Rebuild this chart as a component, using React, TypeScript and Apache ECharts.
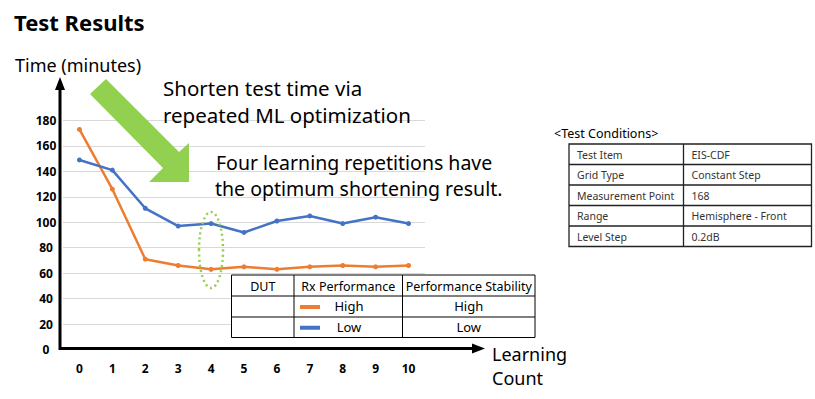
import React, { useEffect, useRef } from "react";
import * as echarts from "echarts";

const categories = ["0", "1", "2", "3", "4", "5", "6", "7", "8", "9", "10"];
const highRx = [173, 126, 71, 66, 63, 65, 63, 65, 66, 65, 66];
const lowRx = [149, 141, 111, 97, 99, 92, 101, 105, 99, 104, 99];
const yMin = 0;
const yMax = 180;
const yStep = 20;

const titleText = "Test Results";
const yAxisName = "Time (minutes)";
const xAxisName = ["Learning", "Count"];
const note1 = ["Shorten test time via", "repeated ML optimization"];
const note2 = ["Four learning repetitions have", "the optimum shortening result."];

const legendHeader = ["DUT", "Rx Performance", "Performance Stability"];
const legendRx = ["High", "Low"];
const legendStability = ["High", "Low"];

const conditionsTitle = "<Test Conditions>";
const conditionKeys = ["Test Item", "Grid Type", "Measurement Point", "Range", "Level Step"];
const conditionValues = ["EIS-CDF", "Constant Step", "168", "Hemisphere - Front", "0.2dB"];

const ORANGE = "#ED7D31";
const BLUE = "#4472C4";
const GREEN = "#92D050";
const FONT = "'Noto Sans', 'Open Sans', sans-serif";

export default function App() {
  const ref = useRef<HTMLDivElement>(null);

  useEffect(() => {
    if (!ref.current) return;
    const chart = echarts.init(ref.current, undefined, { renderer: "svg" });

    const graphics: any[] = [];
    const txt = (text: string, x: number, y: number, size: number, opts: any = {}) => {
      graphics.push({
        type: "text",
        z: opts.z ?? 20,
        style: {
          text,
          x,
          y,
          font: `${opts.weight ?? "normal"} ${size}px ${FONT}`,
          fill: opts.fill ?? "#000",
          align: opts.align ?? "left",
          verticalAlign: "middle",
        },
      });
    };
    const line = (x1: number, y1: number, x2: number, y2: number, w = 1, color = "#000", z = 20) => {
      graphics.push({
        type: "line",
        z,
        shape: { x1, y1, x2, y2 },
        style: { stroke: color, lineWidth: w },
      });
    };

    // Title and axis names
    txt(titleText, 14, 22, 22, { weight: "bold" });
    txt(yAxisName, 15, 65, 18);
    txt(xAxisName[0], 492, 354, 18);
    txt(xAxisName[1], 492, 378, 18);

    // Axis arrows
    line(60, 350, 60, 86, 3);
    graphics.push({ type: "polygon", z: 20, shape: { points: [[60, 77], [55, 90], [65, 90]] }, style: { fill: "#000" } });
    line(59, 348.5, 474, 348.5, 3);
    graphics.push({ type: "polygon", z: 20, shape: { points: [[485, 348.5], [472, 343.5], [472, 353.5]] }, style: { fill: "#000" } });

    // Green arrow
    graphics.push({
      type: "polygon",
      z: 5,
      shape: {
        points: [
          [106, 79],
          [179, 152],
          [189, 143],
          [189, 182],
          [149, 182],
          [163, 168],
          [90, 94],
        ],
      },
      style: { fill: GREEN },
    });

    // Notes
    txt(note1[0], 163, 88, 20.5);
    txt(note1[1], 163, 115, 20.5);
    txt(note2[0], 216, 162, 19.5);
    txt(note2[1], 215, 188, 19.5);

    // Dotted ellipse
    graphics.push({
      type: "ellipse",
      z: 15,
      shape: { cx: 211, cy: 250, rx: 12, ry: 38 },
      style: { fill: "none", stroke: GREEN, lineWidth: 2.5, lineDash: [2, 3.2] },
    });

    // Legend table
    const lx = [231.5, 294, 402.5, 535];
    const ly = [275, 296, 317, 337.5];
    graphics.push({
      type: "rect",
      z: 18,
      shape: { x: lx[0], y: ly[0], width: lx[3] - lx[0], height: ly[3] - ly[0] },
      style: { fill: "#fff", stroke: "#000", lineWidth: 1 },
    });
    for (let i = 1; i < 3; i++) line(lx[i], ly[0], lx[i], ly[3], 1);
    for (let i = 1; i < 3; i++) line(lx[0], ly[i], lx[3], ly[i], 1);
    for (let i = 0; i < 3; i++) txt(legendHeader[i], (lx[i] + lx[i + 1]) / 2, (ly[0] + ly[1]) / 2 + 0.5, 12.5, { align: "center" });
    const swatchColors = [ORANGE, BLUE];
    for (let r = 0; r < 2; r++) {
      const cy = (ly[r + 1] + ly[r + 2]) / 2 + 0.5;
      graphics.push({
        type: "rect",
        z: 20,
        shape: { x: 300, y: cy - 2, width: 20, height: 4 },
        style: { fill: swatchColors[r] },
      });
      txt(legendRx[r], 349, cy - 1, 13, { align: "center" });
      txt(legendStability[r], (lx[2] + lx[3]) / 2, cy - 1, 13, { align: "center" });
    }

    // Test conditions table
    txt(conditionsTitle, 554, 133, 12.5);
    const tx = [569, 683.5, 811.5];
    const ty0 = 144;
    const th = 20.5;
    const tyEnd = ty0 + th * conditionKeys.length;
    graphics.push({
      type: "rect",
      z: 18,
      shape: { x: tx[0], y: ty0, width: tx[2] - tx[0], height: tyEnd - ty0 },
      style: { fill: "#fff", stroke: "#222", lineWidth: 1.3 },
    });
    line(tx[1], ty0, tx[1], tyEnd, 1.3, "#222");
    for (let i = 1; i < conditionKeys.length; i++) line(tx[0], ty0 + th * i, tx[2], ty0 + th * i, 1.3, "#222");
    for (let i = 0; i < conditionKeys.length; i++) {
      const cy = ty0 + th * i + th / 2 + 0.5;
      txt(conditionKeys[i], 577, cy, 10.5, { fill: "#333" });
      txt(conditionValues[i], 691.5, cy, 10.5, { fill: "#333" });
    }

    chart.setOption({
      animation: false,
      backgroundColor: "#fff",
      grid: { left: 63, top: 120.5, width: 362, height: 229, containLabel: false },
      xAxis: {
        type: "category",
        data: categories,
        boundaryGap: true,
        axisLine: { show: false },
        axisTick: { show: false },
        axisLabel: { margin: 13, color: "#000", fontWeight: "bold", fontSize: 12, fontFamily: FONT },
        splitLine: { show: false },
      },
      yAxis: {
        type: "value",
        min: yMin,
        max: yMax,
        interval: yStep,
        axisLine: { show: false },
        axisTick: { show: false },
        axisLabel: { margin: 17, align: "center", color: "#000", fontWeight: "bold", fontSize: 12, fontFamily: FONT },
        splitLine: { lineStyle: { color: "#d9d9d9", width: 1 } },
      },
      series: [
        {
          name: "High",
          type: "line",
          data: highRx,
          symbol: "circle",
          symbolSize: 5,
          lineStyle: { color: ORANGE, width: 2.5 },
          itemStyle: { color: ORANGE },
          z: 3,
        },
        {
          name: "Low",
          type: "line",
          data: lowRx,
          symbol: "circle",
          symbolSize: 5,
          lineStyle: { color: BLUE, width: 2.5 },
          itemStyle: { color: BLUE },
          z: 3,
        },
      ],
      graphic: { elements: graphics },
    });

    return () => chart.dispose();
  }, []);

  return (
    <div
      ref={ref}
      style={{ position: "fixed", left: 0, top: 0, width: 815, height: 399, background: "#fff" }}
    />
  );
}
